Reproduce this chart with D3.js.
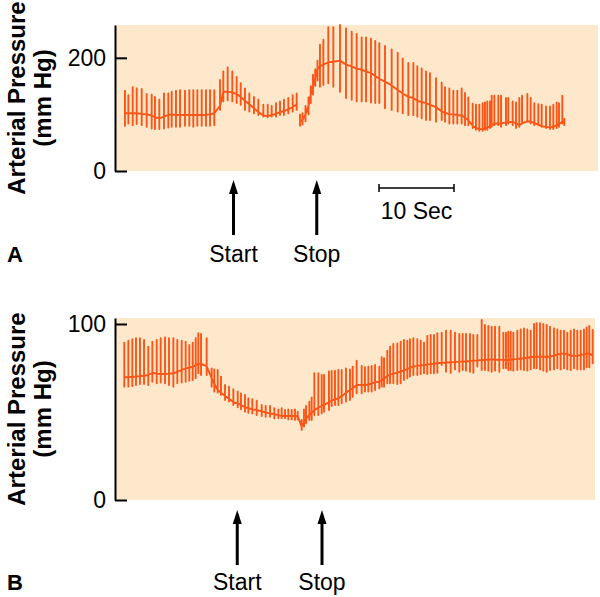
<!DOCTYPE html>
<html><head><meta charset="utf-8">
<script src="https://cdn.jsdelivr.net/npm/d3@7"></script>
<style>
body{margin:0;background:#fff;}
svg{display:block;font-family:"Liberation Sans",Arial,Helvetica,sans-serif;}
</style>
</head><body><svg id="chart" width="600" height="597"></svg>
<script>
// ---------- Panel A data (time in seconds, pressure in mm Hg) ----------
const aTime1 = [1.33,1.78,2.36,2.89,3.56,4.22,4.89,5.33,5.91,6.53,7.11,7.56,8.13,8.67,9.33,9.91,10.44,10.98,11.56,12.13,12.67,13.24,14.00,14.44,15.02,15.64,16.22,16.76,17.33,17.91,18.53,19.11,19.78,20.36,20.89,21.47,22.00,22.53,23.11,23.69,24.22];
const aSys1  = [142,134,148,146,145,136,135,131,126,137,137,140,142,143,142,143,143,143,143,143,143,143,161,176,183,176,166,155,146,137,131,126,117,117,115,120,123,126,129,134,137];
const aDia1  = [80,84,81,83,81,78,75,74,74,75,77,78,78,78,80,80,78,80,80,80,80,81,108,123,125,123,120,117,108,105,102,99,96,95,96,96,99,99,102,105,108];
const aMean1 = [102,102,102,102,101,100,98,95,93,96,99,100,99,99,99,99,99,99,99,99,100,102,115,140,140,139,136,131,124,118,111,104,98,97,99,101,104,106,109,113,118];

const aTime2 = [24.67,25.00,25.40,25.80,26.10,26.40,26.70,27.00,27.33,27.78,28.44,29.11,30.00,30.80,31.56,32.22,32.89,33.47,34.13,34.70,35.24,36.00,36.89,37.69,38.36,39.11,39.78,40.31,40.89,41.47,42.00,42.80,43.56,44.00,44.58,45.11,45.64,46.22,46.67,47.11,47.69,48.13,48.58,49.02,49.33,49.64,50.00,50.22,50.58,51.11,51.47,52.13,52.44,53.02,53.47,53.91,54.27,54.98,55.42,55.91,56.44,56.89,57.47,58.00,58.44,58.89,59.20,59.64,59.91];
const aSys2  = [100,102,115,130,150,170,180,195,223,232,254,254,258,252,246,242,236,236,234,230,226,221,215,209,199,191,191,185,181,176,173,164,156,148,146,142,142,146,138,130,119,117,117,120,121,123,123,133,133,133,133,129,129,123,121,129,133,136,129,120,118,117,114,114,117,121,120,133,92];
const aDia2  = [80,82,88,100,120,135,150,160,149,152,155,149,140,129,126,123,123,123,121,120,120,111,108,105,102,99,99,96,93,90,90,87,90,87,84,84,84,84,81,81,76,73,71,71,73,73,76,78,81,81,78,81,84,81,76,78,84,87,84,81,81,78,76,74,74,76,78,84,81];
const aMean2 = [88,90,100,115,135,150,165,180,185,188,192,193,195,188,185,181,179,176,173,168,163,158,151,143,137,131,129,124,122,120,117,113,105,103,100,100,99,98,94,90,80,76,74,74,75,77,79,81,84,84,84,86,86,87,84,81,84,88,87,85,82,79,78,77,78,81,83,87,85];

const aTicks = [0, 200];
const aEventTimes = [15.8, 26.9];

// ---------- Panel B data ----------
const bTime = [1.24,1.78,2.31,2.80,3.33,3.87,4.44,4.98,5.56,6.09,6.67,7.20,7.78,8.31,8.89,9.42,9.91,10.36,10.76,11.11,11.47,12.22,12.89,13.24,13.69,14.13,14.67,15.20,15.78,16.36,16.80,17.33,17.78,18.31,18.89,19.56,20.09,20.67,21.24,21.78,22.22,22.67,23.11,23.56,24.00,24.36,24.89,25.20,25.47,25.91,26.22,26.58,27.11,27.56,27.87,28.53,28.89,29.33,29.78,30.22,30.80,31.33,31.69,32.22,32.89,33.33,33.78,34.22,34.67,35.24,35.56,35.87,36.31,36.67,37.11,37.64,38.09,38.53,38.98,39.33,39.78,40.31,40.76,41.20,41.64,42.09,42.53,42.98,43.56,44.13,44.76,45.33,45.91,46.36,46.80,47.33,47.78,48.31,48.89,49.33,49.78,50.22,50.67,51.24,51.78,52.13,52.44,52.76,53.11,53.64,54.09,54.53,54.98,55.42,55.87,56.22,56.67,57.11,57.56,58.00,58.53,58.98,59.42,59.87,60.31,60.76,61.20,61.64,62.09,62.53,62.89,63.24,63.69];
const bSys = [89.4,90.5,91.3,91.9,91.9,90.9,87.1,90.0,90.9,91.9,92.4,91.9,91.9,90.9,90.5,90.0,88.1,89.4,91.9,94.7,94.3,91.9,74.8,74.2,73.9,70.1,65.3,64.4,62.9,61.6,60.6,59.7,57.8,57.2,56.4,54.0,53.4,53.4,52.1,51.5,52.1,51.1,51.5,51.1,51.5,50.2,45.5,51.5,53.4,55.9,58.3,72.0,72.0,71.0,71.0,73.0,73.3,73.5,73.9,73.9,74.8,74.2,75.8,79.2,76.1,75.4,75.8,76.1,76.7,75.8,81.1,80.5,84.8,87.1,88.6,89.0,89.9,90.9,90.5,91.3,91.9,91.3,90.5,89.4,93.2,93.8,93.8,94.7,95.1,96.2,96.2,95.1,94.3,94.3,94.3,94.3,93.8,93.8,102.3,99.4,98.9,98.5,98.5,98.5,95.1,95.1,95.6,95.6,95.1,96.2,96.9,97.5,96.9,96.2,100.0,100.4,100.4,100.0,99.4,98.5,97.5,96.9,96.2,96.2,95.1,96.2,96.9,96.2,96.2,96.9,98.1,98.9,96.6];
const bDia = [64.4,64.4,64.8,65.3,65.9,65.9,65.3,67.2,66.3,66.7,66.3,65.3,64.4,66.3,66.7,67.2,67.8,68.2,69.1,72.0,71.0,71.0,64.4,61.6,61.0,59.7,56.8,55.9,54.0,52.7,51.5,50.2,49.6,49.2,48.3,47.7,47.3,47.3,46.4,46.4,46.4,46.4,45.8,45.8,45.5,45.8,39.8,41.7,43.6,45.5,45.5,48.3,48.3,49.2,50.2,51.1,53.4,54.0,54.0,54.9,55.9,56.8,58.7,60.6,60.6,61.6,61.6,61.6,62.5,63.4,64.4,64.4,66.3,66.3,66.3,65.9,66.3,68.2,69.1,70.1,71.0,71.0,71.6,72.0,71.6,72.0,72.0,72.3,76.7,72.9,72.3,74.2,72.9,73.9,73.5,72.9,72.3,75.8,73.9,73.9,73.5,72.9,73.5,72.9,74.8,74.8,73.9,73.9,73.5,73.9,74.2,73.9,73.5,74.2,74.8,74.8,74.2,73.5,72.9,73.9,74.2,74.8,74.2,74.8,74.2,73.9,74.8,74.2,74.2,74.2,75.4,75.4,77.7];
const bMean = [69.7,69.8,70.0,70.2,70.4,70.6,71.0,72.3,71.8,71.6,71.6,71.8,72.0,72.8,73.9,74.6,75.2,75.8,76.5,77.3,77.3,76.1,69.1,66.0,62.5,61.0,59.1,57.5,55.5,54.9,54.0,52.7,52.2,51.5,51.1,50.4,49.8,49.2,48.7,48.2,47.7,47.7,47.7,47.7,47.7,47.5,41.7,44.0,46.0,48.5,49.5,51.0,52.5,53.4,54.0,55.5,56.5,57.2,57.8,59.0,61.0,62.5,63.5,65.3,65.3,65.3,65.6,66.2,66.8,67.2,68.0,68.8,70.5,71.2,71.8,72.4,72.9,73.6,74.4,75.0,75.8,76.2,76.5,76.7,76.9,77.2,77.4,77.7,78.0,78.1,78.3,78.5,78.6,78.7,78.8,79.0,79.2,79.3,79.5,79.6,79.8,79.9,79.8,79.7,79.6,79.5,79.6,79.8,80.0,80.2,80.4,80.5,80.8,81.1,81.4,81.4,81.4,81.4,81.4,81.4,82.0,82.6,83.1,83.3,82.8,82.2,81.8,82.0,82.4,82.7,83.0,83.3,82.0];

const bTicks = [0, 100];
const bEventTimes = [16.3, 27.6];

const eventLabels = ["Start", "Stop"];
const scaleBarStart = 35.2, scaleBarSeconds = 10, scaleBarLabel = "10 Sec";
const yTitle = ["Arterial Pressure", "(mm Hg)"];

// ---------- drawing ----------
const BG = "#fde8cb", TRACE = "#fb5517", FONT = '"Liberation Sans", Arial, Helvetica, sans-serif';
const svg = d3.select("#chart");
const x = d3.scaleLinear().domain([0, 64]).range([115, 595]);
const yA = d3.scaleLinear().domain([0, 258]).range([171, 25]);
const yB = d3.scaleLinear().domain([0, 103.4]).range([500, 318]);

function drawPanel(y, ticks, segments, right, events, letter, arrowTop, labelBase) {
  const [y0, y1] = y.range();
  svg.append("rect").attr("x", 115).attr("y", y1).attr("width", right - 115).attr("height", y0 - y1).attr("fill", BG);

  const line = d3.line().x(d => x(d[0])).y(d => y(d[1]));
  segments.forEach(s => {
    const pts = [];
    s.t.forEach((t, i) => { pts.push([t, s.mean[i]], [t, s.sys[i]], [t, s.dia[i]], [t, s.mean[i]]); });
    svg.append("path").attr("d", line(pts)).attr("fill", "none")
      .attr("stroke", TRACE).attr("stroke-width", 1.9).attr("stroke-linejoin", "round");
  });

  const ax = d3.axisLeft(y).tickValues(ticks).tickSize(-12).tickSizeOuter(0).tickPadding(9).tickFormat(d3.format("d"));
  const g = svg.append("g").attr("transform", "translate(115,0)").call(ax)
    .attr("font-family", FONT).attr("font-size", 23);
  g.select(".domain").attr("stroke", "#000").attr("stroke-width", 2);
  g.selectAll(".tick line").attr("stroke", "#000").attr("stroke-width", 2);
  g.selectAll(".tick text").attr("fill", "#000");

  const cy = (y0 + y1) / 2;
  svg.append("text").attr("transform", `translate(25,${cy}) rotate(-90)`).attr("text-anchor", "middle")
    .attr("font-weight", "bold").attr("font-size", 24).text(yTitle[0]);
  svg.append("text").attr("transform", `translate(51,${cy}) rotate(-90)`).attr("text-anchor", "middle")
    .attr("font-weight", "bold").attr("font-size", 24).text(yTitle[1]);

  events.forEach((t, i) => {
    const ex = x(t);
    svg.append("line").attr("x1", ex).attr("x2", ex).attr("y1", arrowTop + 10).attr("y2", arrowTop + 55)
      .attr("stroke", "#000").attr("stroke-width", 3);
    svg.append("path").attr("d", `M${ex - 4.5},${arrowTop + 14}L${ex},${arrowTop}L${ex + 4.5},${arrowTop + 14}Z`).attr("fill", "#000");
    svg.append("text").attr("x", ex).attr("y", labelBase).attr("text-anchor", "middle")
      .attr("font-size", 23).text(eventLabels[i]);
  });
  svg.append("text").attr("x", 7).attr("y", labelBase).attr("font-weight", "bold").attr("font-size", 22).text(letter);
}

drawPanel(yA, aTicks, [
  {t: aTime1, sys: aSys1, dia: aDia1, mean: aMean1},
  {t: aTime2, sys: aSys2, dia: aDia2, mean: aMean2}
], 598, aEventTimes, "A", 180, 262);

drawPanel(yB, bTicks, [
  {t: bTime, sys: bSys, dia: bDia, mean: bMean}
], 595, bEventTimes, "B", 510, 590);

// scale bar
const sb0 = x(scaleBarStart), sb1 = x(scaleBarStart + scaleBarSeconds);
svg.append("path").attr("d", `M${sb0},184V192M${sb0},188H${sb1}M${sb1},184V192`).attr("fill", "none")
  .attr("stroke", "#000").attr("stroke-width", 1.5);
svg.append("text").attr("x", (sb0 + sb1) / 2).attr("y", 219).attr("text-anchor", "middle").attr("font-size", 23).text(scaleBarLabel);
</script>
</body></html>
